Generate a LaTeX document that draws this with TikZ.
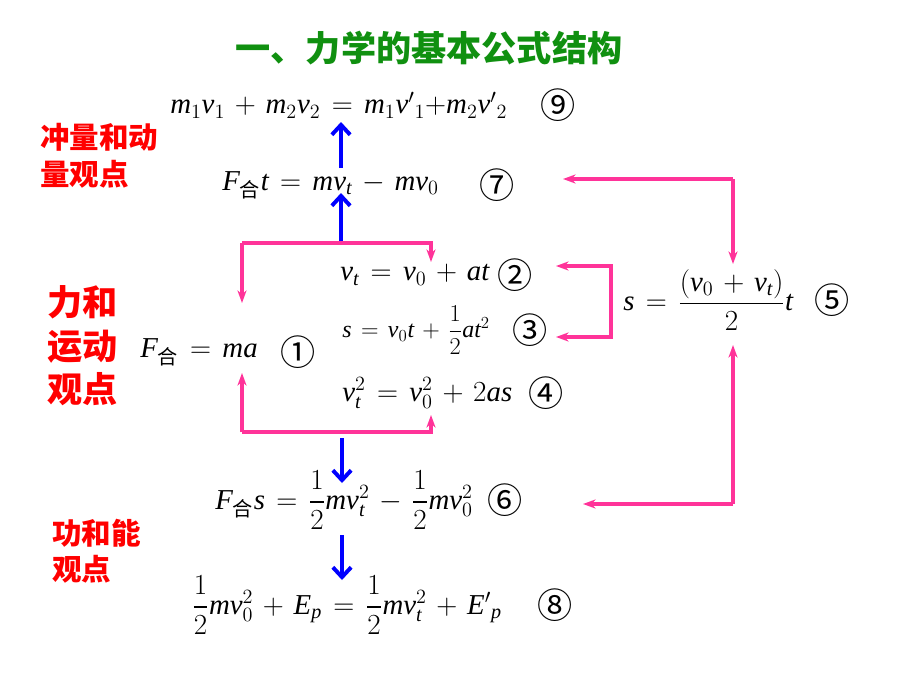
\documentclass[tikz,border=0pt]{standalone}
\usepackage{amsmath}
\usepackage{fontspec}
\setmainfont{Liberation Serif}
\DeclareSymbolFont{letters}{TU}{\rmdefault}{m}{it}
\DeclareSymbolFont{operators}{TU}{\rmdefault}{m}{n}
\newfontfamily\cjk{Noto Sans CJK SC}
\usetikzlibrary{arrows.meta}
\definecolor{titlegreen}{RGB}{16,144,16}
\definecolor{linkpink}{RGB}{255,51,153}
\newcommand{\he}{\text{\cjk 合}}
\newcommand{\cn}[1]{{\cjk #1}}
\medmuskip=6mu plus 2mu
\thickmuskip=7mu plus 3mu
\tikzset{
  formula/.style={anchor=west, inner sep=0pt, font=\fontsize{20.5}{22}\selectfont},
  tag/.style={inner sep=0pt, font=\fontsize{25}{26}\selectfont},
  view/.style={anchor=west, inner sep=0pt, align=left, text=red, font=\cjk\bfseries\fontsize{21}{26}\selectfont},
  link/.style={linkpink, line width=2.3pt, -{Stealth[length=9pt,width=6.5pt]}},
  flow/.style={blue, line width=2.8pt, -{Straight Barb[length=7pt,width=13pt]}}
}
\begin{document}
\begin{tikzpicture}[x=0.025cm, y=-0.025cm]
        \useasboundingbox (0,0) rectangle (920,690);

        \node (title) at (429,48) [inner sep=0pt, text=titlegreen, font=\cjk\bfseries\fontsize{25}{26}\selectfont] {一、力学的基本公式结构};

        \node (p1) at (40,156) [view] {冲量和动\\量观点};
        \node (p2) at (47,346) [view, font=\cjk\bfseries\fontsize{25}{31}\selectfont] {力和\\运动\\观点};
        \node (p3) at (52,551) [view] {功和能\\观点};

        \node (f9) at (170,105) [formula] {$m_1v_1+m_2v_2=m_1{v'}_1{+}m_2{v'}_2$};
        \node (n9) at (558,105) [tag] {\cn{⑨}};
        \node (f7) at (222,185) [formula] {$F_{\he}t=mv_t-mv_0$};
        \node (n7) at (497,185) [tag] {\cn{⑦}};
        \node (f2) at (340,275) [formula] {$v_t=v_0+at$};
        \node (n2) at (515,275) [tag] {\cn{②}};
        \node (f3) at (342,330) [formula, font=\fontsize{17}{18}\selectfont] {$s=v_0t+\dfrac{1}{2}at^2$};
        \node (n3) at (530,330) [tag] {\cn{③}};
        \node (f4) at (342,393) [formula] {$v_t^2=v_0^2+2as$};
        \node (n4) at (546,393) [tag] {\cn{④}};
        \node (f1) at (140,352) [formula] {$F_{\he}=ma$};
        \node (n1) at (298,352) [tag] {\cn{①}};
        \node (f5) at (623,300) [formula] {$s=\dfrac{(v_0+v_t)}{2}t$};
        \node (n5) at (832,300) [tag] {\cn{⑤}};
        \node (f6) at (215,500) [formula] {$F_{\he}s=\dfrac{1}{2}mv_t^2-\dfrac{1}{2}mv_0^2$};
        \node (n6) at (505,500) [tag] {\cn{⑥}};
        \node (f8) at (192,605) [formula] {$\dfrac{1}{2}mv_0^2+E_p=\dfrac{1}{2}mv_t^2+{E'}_p$};
        \node (n8) at (555,605) [tag] {\cn{⑧}};

        % blue chain
        \coordinate (b1) at (341,243);
        \coordinate (b2) at (341,193);
        \coordinate (b3) at (341,168);
        \coordinate (b4) at (341,122);
        \coordinate (b5) at (342,438);
        \coordinate (b6) at (342,483);
        \coordinate (b7) at (342,535);
        \coordinate (b8) at (342,580);
        \draw [flow] (b1) -- (b2);
        \draw [flow] (b3) -- (b4);
        \draw [flow] (b5) -- (b6);
        \draw [flow] (b7) -- (b8);

        % pink links
        \coordinate (t1) at (242,303);
        \coordinate (t2) at (431,262);
        \draw [link] (t1 |- b1) -- (t1);
        \draw [link] (t1 |- b1) -- (t2 |- b1) -- (t2);
        \coordinate (u1) at (242,373);
        \coordinate (u2) at (431,415);
        \draw [link] (u1 |- 0,432) -- (u1);
        \draw [link] (u1 |- 0,432) -- (u2 |- 0,432) -- (u2);
        \coordinate (r2) at (556,266);
        \coordinate (r3) at (556,337);
        \draw [link] (611,300) |- (r2);
        \draw [link] (611,300) |- (r3);
        \coordinate (s7) at (563,179);
        \coordinate (s5) at (733,264);
        \draw [link] (s7 -| s5) -- (s7);
        \draw [link] (s7 -| s5) -- (s5);
        \coordinate (d5) at (733,345);
        \coordinate (d6) at (583,504);
        \draw [link] (d5 |- d6) -- (d5);
        \draw [link] (d5 |- d6) -- (d6);
\end{tikzpicture}
\end{document}
